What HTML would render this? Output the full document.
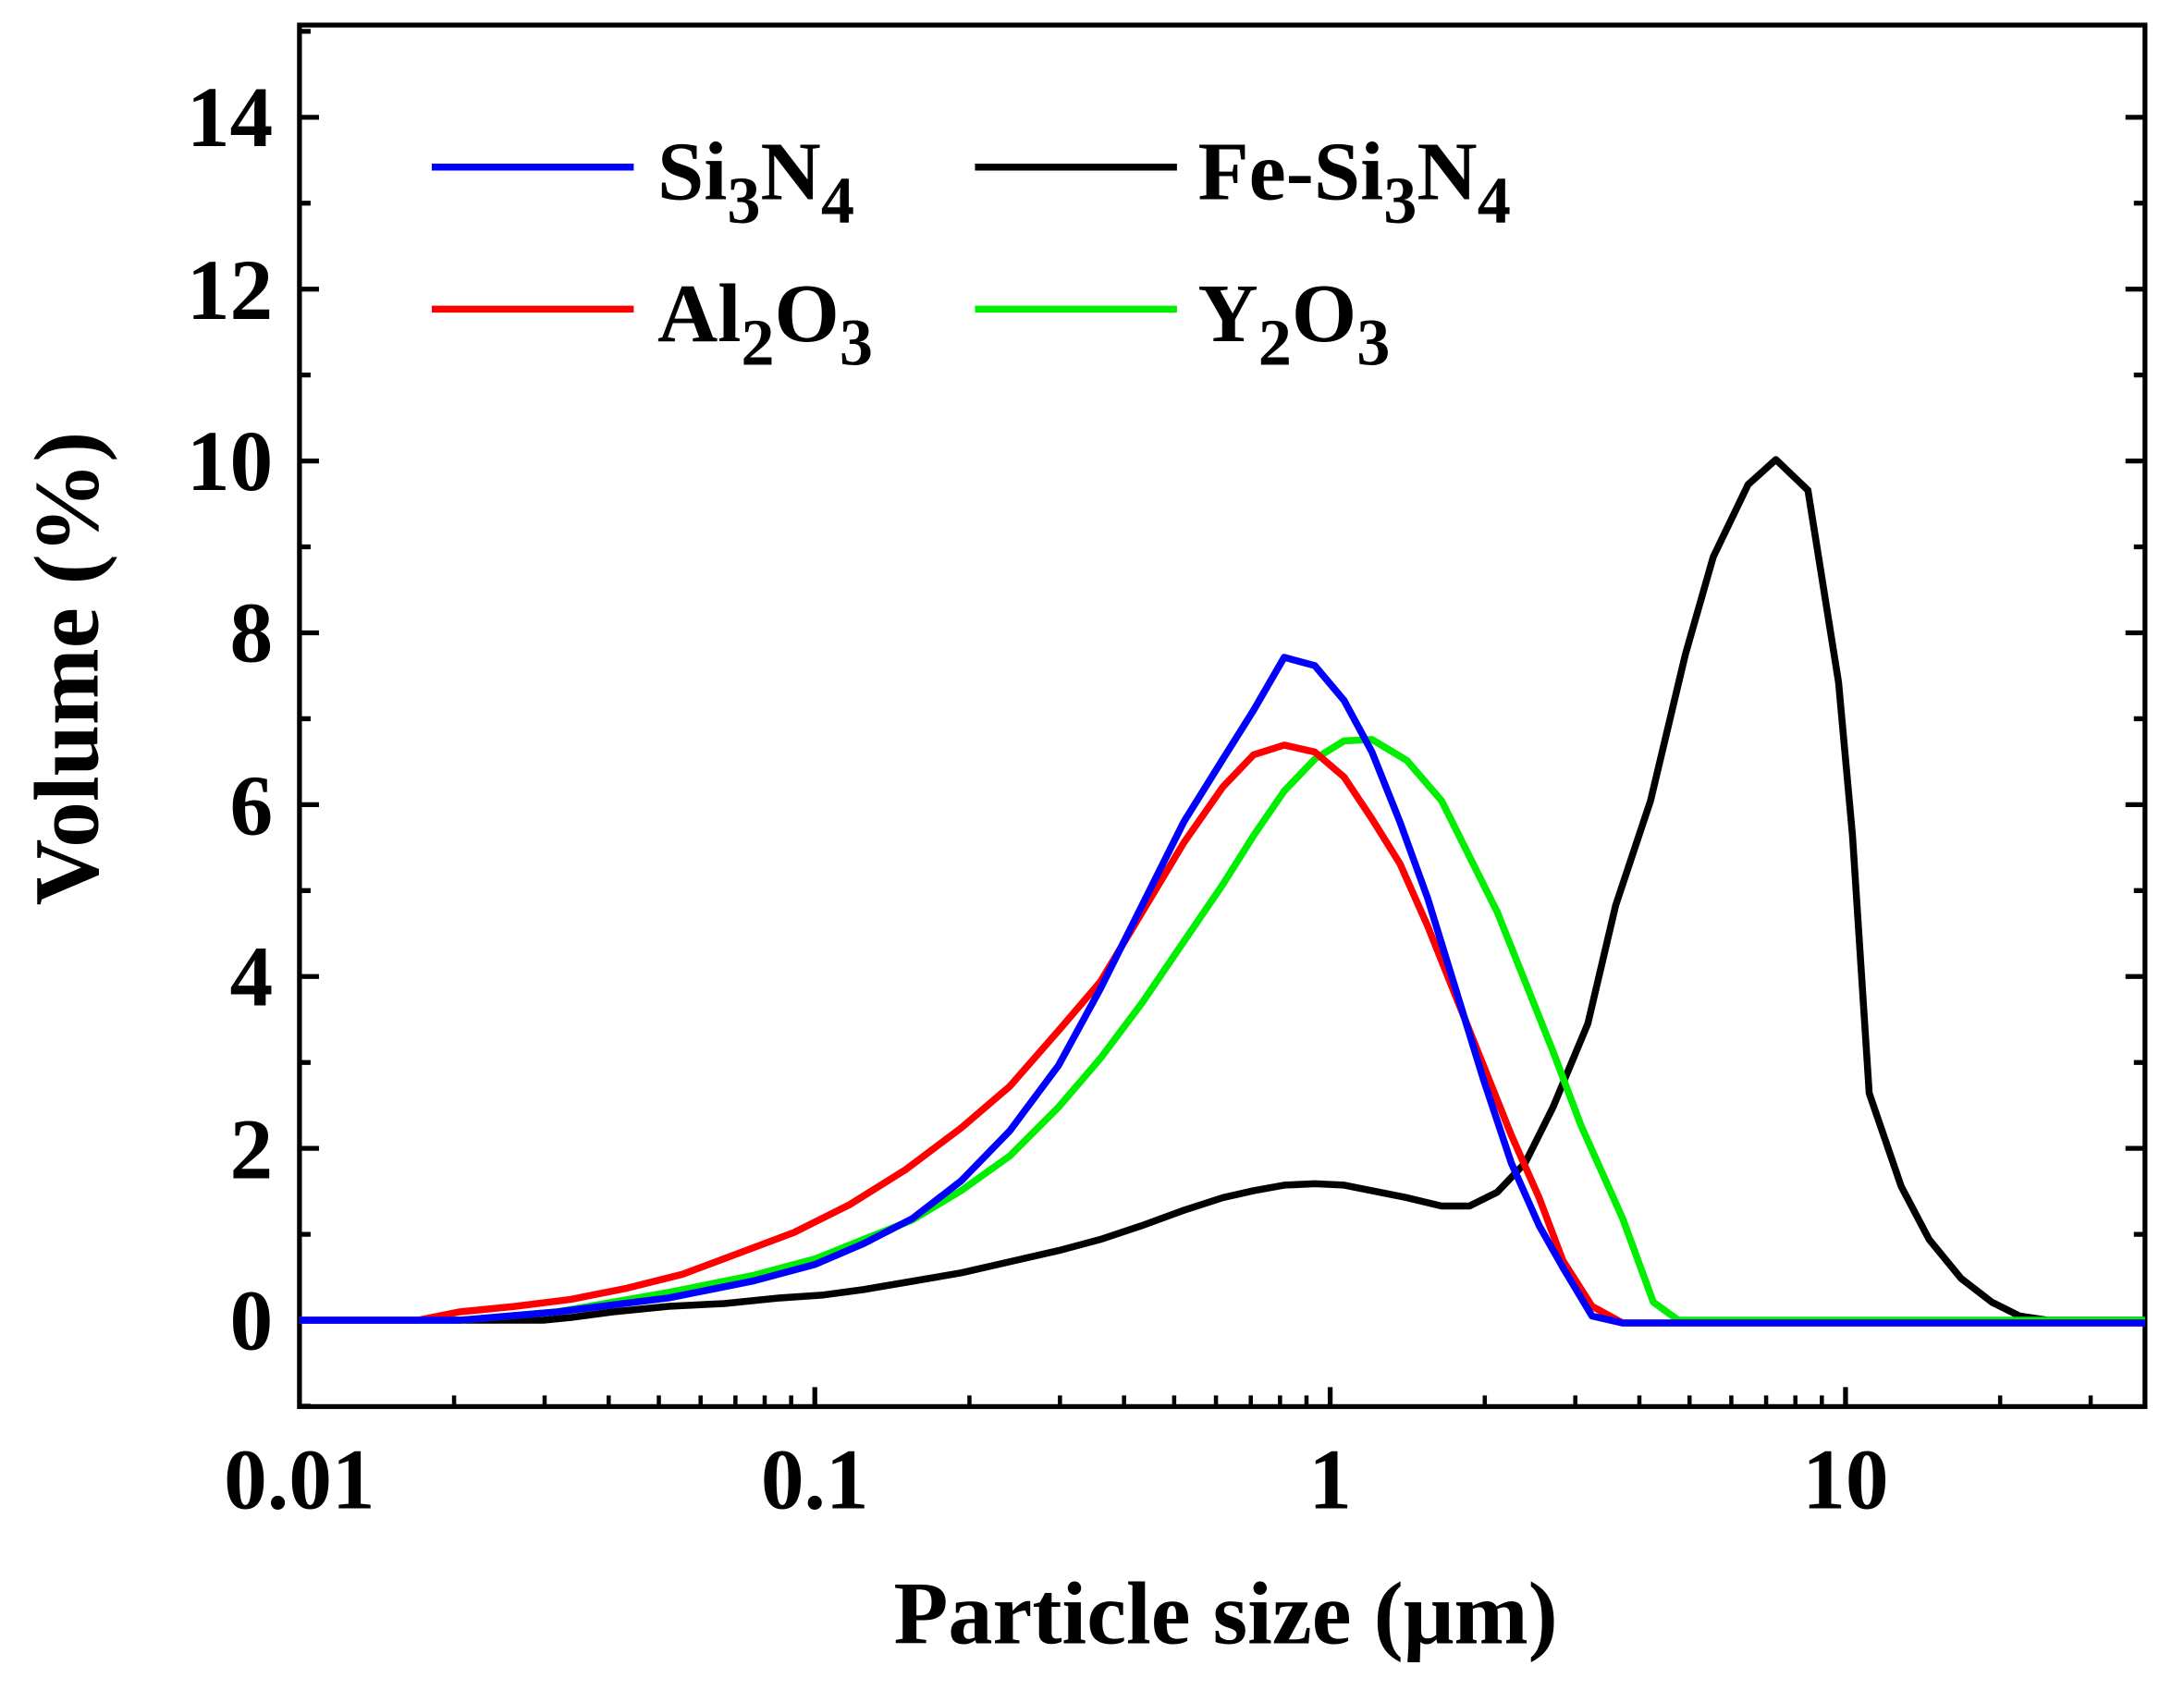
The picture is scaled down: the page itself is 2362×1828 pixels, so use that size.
<!DOCTYPE html>
<html><head><meta charset="utf-8"><style>html,body{margin:0;padding:0;background:#fff}</style></head>
<body>
<svg width="2362" height="1823" viewBox="0 0 1568 1210.2" xmlns="http://www.w3.org/2000/svg" font-family="'Liberation Serif',serif" font-weight="bold">
<rect width="1568" height="1211" fill="#fff"/>
<g stroke="#000" stroke-width="3.5" fill="none">
<rect x="215" y="18" width="1325" height="992"/>
<path d="M215,948H229M215,824.6H229M215,701.2H229M215,577.8H229M215,454.4H229M215,331H229M215,207.6H229M215,84.2H229
M215,1009.7H223M215,886.3H223M215,762.9H223M215,639.5H223M215,516.1H223M215,392.7H223M215,269.3H223M215,145.9H223M215,22.5H223
M1540,948H1526M1540,824.6H1526M1540,701.2H1526M1540,577.8H1526M1540,454.4H1526M1540,331H1526M1540,207.6H1526M1540,84.2H1526
M1540,886.3H1532M1540,762.9H1532M1540,639.5H1532M1540,516.1H1532M1540,392.7H1532M1540,269.3H1532M1540,145.9H1532
M585,1010V996M955,1010V996M1325,1010V996"/>
</g>
<path stroke="#000" stroke-width="3" d="M326,1010v-8M391,1010v-8M437,1010v-8M473,1010v-8M503,1010v-8M528,1010v-8M549,1010v-8M568,1010v-8
M696,1010v-8M761,1010v-8M807,1010v-8M843,1010v-8M873,1010v-8M898,1010v-8M919,1010v-8M938,1010v-8
M1066,1010v-8M1131,1010v-8M1177,1010v-8M1213,1010v-8M1243,1010v-8M1268,1010v-8M1289,1010v-8M1308,1010v-8
M1436,1010v-8M1501,1010v-8"/>
<g fill="none" stroke-width="5" stroke-linejoin="round">
<polyline stroke="#000" points="215,948 390,948 410,946 440,942 480,938 520,936 560,932 590,930 620,926 655,920 690,914 725,906 760,898 790,890 820,880 850,869 878,860 900,855 922,851 944,850 965,851 985,855 1010,860 1035,866 1055,866 1075,856 1095,835 1115,795 1140,735 1160,650 1185,575 1210,470 1230,400 1255,348 1275,330 1298,352 1320,490 1330,600 1342,785 1365,852 1385,890 1408,918 1430,935 1450,945 1470,948 1540,948"/>
<polyline stroke="#00ee00" points="215,948 330,948 400,942 480,928 540,916 585,904 620,890 655,876 690,855 725,830 760,795 790,760 820,720 850,676 878,635 900,600 922,568 944,545 965,532 985,531 1010,546 1035,575 1055,615 1075,655 1095,705 1115,755 1135,808 1165,875 1187,935 1205,948 1540,948"/>
<polyline stroke="#ff0000" points="215,948 300,948 330,942 370,938 410,933 450,925 490,915 530,900 570,885 610,865 650,840 690,810 725,780 760,740 790,705 820,655 850,605 878,565 900,542 922,535 944,540 965,558 985,588 1005,620 1025,665 1045,715 1065,765 1085,815 1105,860 1122,905 1143,938 1165,950 1540,950"/>
<polyline stroke="#0000ff" points="215,948 330,948 400,942 480,932 540,920 585,908 620,893 655,875 690,848 725,812 760,765 790,710 820,650 850,590 878,545 900,510 922,472 944,478 965,503 985,540 1005,590 1025,645 1045,710 1065,775 1085,835 1105,880 1122,910 1143,945 1165,950 1540,950"/>
</g>
<g font-size="62" text-anchor="end">
<text x="196" y="969">0</text><text x="196" y="846">2</text><text x="196" y="722">4</text><text x="196" y="599">6</text>
<text x="196" y="475">8</text><text x="196" y="352">10</text><text x="196" y="229">12</text><text x="196" y="105">14</text>
</g>
<g font-size="62" text-anchor="middle">
<text x="215" y="1083">0.01</text><text x="585" y="1083">0.1</text><text x="955" y="1083">1</text><text x="1325" y="1083">10</text>
</g>
<text x="880" y="1180" font-size="64" text-anchor="middle">Particle size (μm)</text>
<text transform="translate(70,480) rotate(-90)" font-size="66" text-anchor="middle">Volume (%)</text>
<g stroke-width="5">
<line x1="310" y1="120" x2="455" y2="120" stroke="#0000ff"/>
<line x1="700" y1="120" x2="845" y2="120" stroke="#000"/>
<line x1="310" y1="222" x2="455" y2="222" stroke="#ff0000"/>
<line x1="700" y1="222" x2="845" y2="222" stroke="#00ee00"/>
</g>
<g font-size="60">
<text x="472" y="143">Si<tspan font-size="48" dy="17">3</tspan><tspan dy="-17">N</tspan><tspan font-size="48" dy="17">4</tspan></text>
<text x="860" y="143">Fe-Si<tspan font-size="48" dy="17">3</tspan><tspan dy="-17">N</tspan><tspan font-size="48" dy="17">4</tspan></text>
<text x="472" y="245">Al<tspan font-size="48" dy="17">2</tspan><tspan dy="-17">O</tspan><tspan font-size="48" dy="17">3</tspan></text>
<text x="860" y="245">Y<tspan font-size="48" dy="17">2</tspan><tspan dy="-17">O</tspan><tspan font-size="48" dy="17">3</tspan></text>
</g>
</svg>
</body></html>
